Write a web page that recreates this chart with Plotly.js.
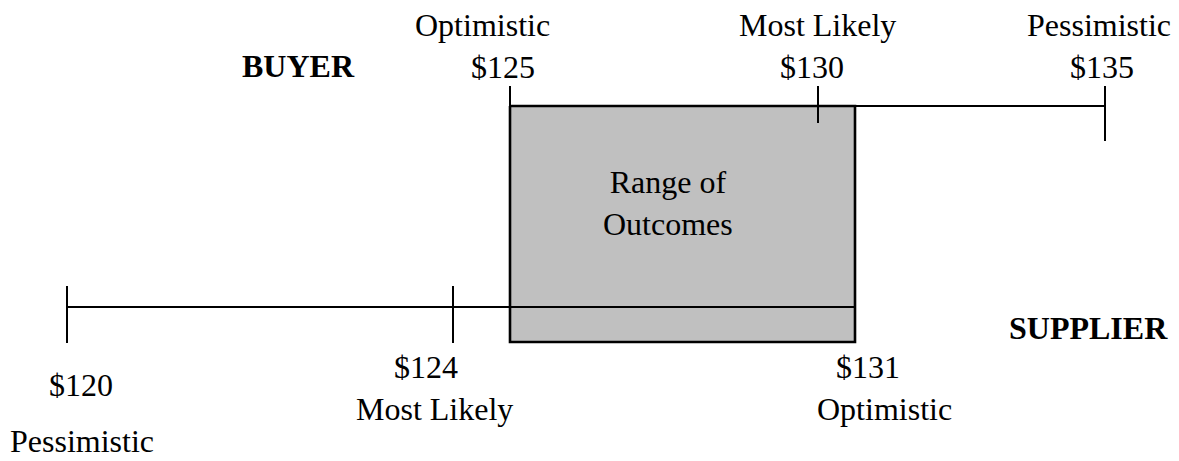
<!DOCTYPE html>
<html><head><meta charset="utf-8">
<script src="https://cdn.plot.ly/plotly-3.0.1.min.js"></script>
<style>html,body{margin:0;padding:0;background:#fff;}#chart{width:1179px;height:461px;}</style>
</head><body><div id="chart"></div>
<script>
// ---- data ----
const buyerScenarios = ["Optimistic", "Most Likely", "Pessimistic"];
const buyerPrices = [125, 130, 135];
const supplierScenarios = ["Pessimistic", "Most Likely", "Optimistic"];
const supplierPrices = [120, 124, 131];
const partyNames = ["BUYER", "SUPPLIER"];
const rangeLabel = "Range of<br>Outcomes";

// ---- schematic layout (the original diagram is not drawn to scale) ----
const buyerX = [510, 818, 1105];
const supplierX = [67, 453, 855];
const buyerY = 106, supplierY = 307, boxBottom = 342;
const buyerTickTop = [86, 86, 86], buyerTickBottom = [106, 123, 141];
const supplierTickTop = [286, 286, null], supplierTickBottom = [343, 343, null];

const FONT = "Liberation Serif, Times New Roman, serif";
const FS = 32;
const money = p => "$" + p;

function segs(xs, tops, bottoms) {
  const x = [], y = [];
  xs.forEach((v, i) => {
    if (tops[i] == null) return;
    x.push(v, v, null); y.push(tops[i], bottoms[i], null);
  });
  return {x, y};
}

const bt = segs(buyerX, buyerTickTop, buyerTickBottom);
const st = segs(supplierX, supplierTickTop, supplierTickBottom);

const traces = [
  { // range of outcomes box
    x: [buyerX[0], supplierX[2], supplierX[2], buyerX[0], buyerX[0]],
    y: [buyerY, buyerY, boxBottom, boxBottom, buyerY],
    mode: "lines", fill: "toself", fillcolor: "#C0C0C0",
    line: {color: "#000", width: 2.6}, hoverinfo: "skip"
  },
  { // supplier line
    x: [supplierX[0], supplierX[2]], y: [supplierY, supplierY],
    mode: "lines", line: {color: "#000", width: 2}, hoverinfo: "skip"
  },
  { // buyer line
    x: [buyerX[0], buyerX[2]], y: [buyerY, buyerY],
    mode: "lines", line: {color: "#000", width: 2}, hoverinfo: "skip"
  },
  { x: bt.x, y: bt.y, mode: "lines", line: {color: "#000", width: 2}, hoverinfo: "skip" },
  { x: st.x, y: st.y, mode: "lines", line: {color: "#000", width: 2}, hoverinfo: "skip" }
];

const ann = [];
function txt(x, y, text, bold, yanchor) {
  ann.push({x, y, xref: "x", yref: "y", text: bold ? "<b>" + text + "</b>" : text,
    showarrow: false, xanchor: "center", yanchor: yanchor || "middle",
    font: {family: FONT, size: FS, color: "#000"}});
}
// buyer labels (scenario on first line, price on second)
const buyerNameDx = [-28, -1, -6], buyerPriceDx = [-7, -6, -3];
buyerScenarios.forEach((s, i) => {
  txt(buyerX[i] + buyerNameDx[i], 25, s);
  txt(buyerX[i] + buyerPriceDx[i], 67, money(buyerPrices[i]));
});
// supplier labels
const supPriceDx = [14, -27, 13], supPriceY = [385, 367, 367];
const supNameDx = [15, -19, 29], supNameY = [null, 409, 409];
supplierScenarios.forEach((s, i) => {
  txt(supplierX[i] + supPriceDx[i], supPriceY[i], money(supplierPrices[i]));
  if (supNameY[i] == null) txt(supplierX[i] + supNameDx[i], 461, s, false, "bottom");
  else txt(supplierX[i] + supNameDx[i], supNameY[i], s);
});
txt(298, 66, partyNames[0], true);
txt(1088, 328, partyNames[1], true);
ann.push({x: (buyerX[0] + supplierX[2]) / 2 - 15, y: 203, xref: "x", yref: "y",
  text: rangeLabel, showarrow: false, align: "center",
  font: {family: FONT, size: FS, color: "#000"}});

const layout = {
  width: 1179, height: 461,
  margin: {l: 0, r: 0, t: 0, b: 0},
  paper_bgcolor: "#fff", plot_bgcolor: "#fff",
  showlegend: false,
  xaxis: {range: [0, 1179], visible: false, fixedrange: true},
  yaxis: {range: [461, 0], visible: false, fixedrange: true},
  annotations: ann
};
Plotly.newPlot("chart", traces, layout, {staticPlot: true, displayModeBar: false});
</script></body></html>
